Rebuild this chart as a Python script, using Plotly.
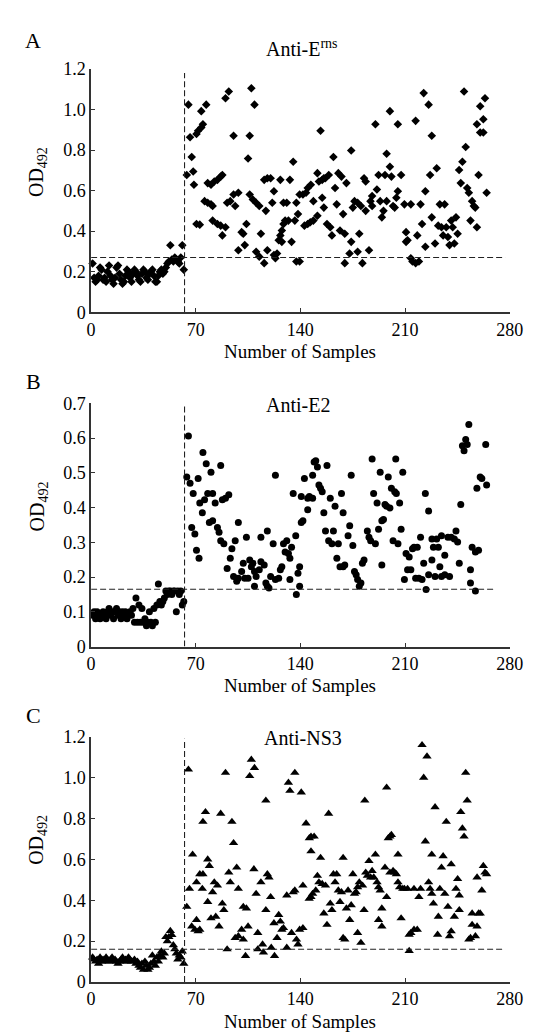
import plotly.graph_objects as go

# ---------------- data ----------------
x_ticks = [0, 70, 140, 210, 280]
x_tick_text = ["0", "70", "140", "210", "280"]
y_ticks_a = [0, 0.2, 0.4, 0.6, 0.8, 1.0, 1.2]
y_tick_text_a = ["0", "0.2", "0.4", "0.6", "0.8", "1.0", "1.2"]
y_ticks_b = [0, 0.1, 0.2, 0.3, 0.4, 0.5, 0.6, 0.7]
y_tick_text_b = ["0", "0.1", "0.2", "0.3", "0.4", "0.5", "0.6", "0.7"]
y_ticks_c = [0, 0.2, 0.4, 0.6, 0.8, 1.0, 1.2]
y_tick_text_c = ["0", "0.2", "0.4", "0.6", "0.8", "1.0", "1.2"]

titles = ["Anti-E<sup>rns</sup>", "Anti-E2", "Anti-NS3"]
letters = ["A", "B", "C"]

neg_count = 62
cut_sample = 62.5                # vertical dashed line
cutoff_a, cutoff_b, cutoff_c = 0.27, 0.165, 0.16
vline_top = [1.18, 0.695, 1.19]
hline_end = [277, 270, 276]

a_neg = [0.24, 0.17, 0.15, 0.16, 0.18, 0.22, 0.21, 0.16, 0.17, 0.15,
         0.20, 0.23, 0.18, 0.16, 0.14, 0.17, 0.22, 0.23, 0.19, 0.16,
         0.14, 0.15, 0.18, 0.21, 0.20, 0.17, 0.15, 0.19, 0.21, 0.20,
         0.18, 0.16, 0.15, 0.19, 0.21, 0.20, 0.17, 0.16, 0.19, 0.20,
         0.21, 0.18, 0.15, 0.15, 0.18, 0.20, 0.21, 0.19, 0.20, 0.22,
         0.24, 0.25, 0.33, 0.26, 0.25, 0.27, 0.26, 0.25, 0.24, 0.27,
         0.33, 0.21]

a_pos = [(65.1, 1.024), (66.2, 0.863), (67.3, 0.766), (64.0, 0.677), (68.3, 0.694),
         (68.8, 0.629), (70.5, 0.879), (71.6, 0.895), (73.7, 0.911), (74.8, 0.927),
         (73.7, 0.992), (77.0, 1.024), (70.5, 0.435), (72.7, 0.432), (75.9, 0.548),
         (78.0, 0.540), (80.2, 0.532), (81.3, 0.524), (78.0, 0.637), (80.2, 0.629),
         (82.4, 0.645), (84.5, 0.653), (86.7, 0.669), (87.8, 0.677), (81.3, 0.452),
         (84.5, 0.435), (86.7, 0.427), (87.8, 0.379), (89.9, 0.419), (89.9, 1.056),
         (92.1, 1.089), (95.3, 0.871), (91.0, 0.540), (93.1, 0.548), (95.3, 0.581),
         (98.5, 0.589), (96.4, 0.524), (98.5, 0.306), (100.7, 0.395), (101.8, 0.387),
         (102.8, 0.331), (103.9, 0.435), (105.0, 0.758), (106.1, 0.871), (107.2, 1.105),
         (109.3, 1.024), (106.1, 0.581), (108.2, 0.556), (110.4, 0.540), (112.5, 0.524),
         (113.6, 0.387), (110.4, 0.298), (112.5, 0.274), (115.8, 0.242), (117.9, 0.306),
         (116.9, 0.500), (115.8, 0.653), (117.9, 0.661), (120.1, 0.661), (122.3, 0.597),
         (121.2, 0.540), (122.3, 0.282), (123.3, 0.266), (124.4, 0.290), (125.5, 0.355),
         (126.6, 0.379), (127.6, 0.403), (128.7, 0.435), (129.8, 0.452), (127.6, 0.347),
         (126.6, 0.653), (128.7, 0.540), (130.9, 0.540), (132.0, 0.452), (134.1, 0.347),
         (135.2, 0.742), (133.0, 0.653), (137.3, 0.540), (138.4, 0.484), (139.5, 0.581),
         (139.5, 0.250), (137.3, 0.250), (136.3, 0.452), (141.7, 0.581), (143.8, 0.589),
         (144.9, 0.613), (147.0, 0.629), (148.7, 0.548), (151.4, 0.686), (152.4, 0.645),
         (153.5, 0.895), (154.6, 0.653), (155.7, 0.661), (156.7, 0.661), (159.0, 0.677),
         (154.6, 0.565), (155.7, 0.516), (151.4, 0.476), (148.7, 0.452), (146.6, 0.444),
         (144.9, 0.435), (142.7, 0.427), (157.8, 0.435), (160.0, 0.419), (161.1, 0.379),
         (162.1, 0.766), (163.2, 0.613), (165.4, 0.686), (167.5, 0.669), (164.3, 0.532),
         (166.5, 0.403), (168.6, 0.484), (169.7, 0.387), (170.8, 0.637), (174.0, 0.798),
         (174.0, 0.347), (172.9, 0.290), (169.7, 0.242), (175.1, 0.516), (176.2, 0.548),
         (178.3, 0.540), (179.4, 0.387), (178.3, 0.298), (180.5, 0.524), (181.5, 0.242),
         (182.6, 0.661), (183.7, 0.645), (183.7, 0.500), (185.9, 0.306), (186.9, 0.548),
         (188.0, 0.573), (188.0, 0.524), (190.2, 0.927), (191.2, 0.605), (192.3, 0.677),
         (193.4, 0.548), (194.5, 0.468), (195.6, 0.500), (196.6, 0.677), (197.7, 0.548),
         (197.7, 0.782), (199.9, 0.992), (199.9, 0.718), (200.9, 0.669), (202.0, 0.524),
         (203.1, 0.516), (204.2, 0.565), (205.2, 0.927), (205.2, 0.597), (207.4, 0.677),
         (209.6, 0.532), (210.7, 0.395), (210.7, 0.347), (211.7, 0.355), (213.9, 0.532),
         (213.9, 0.266), (215.0, 0.250), (217.1, 0.242), (219.3, 0.250), (217.1, 0.944),
         (218.2, 0.379), (220.4, 0.532), (221.4, 0.435), (222.5, 1.081), (223.6, 0.597),
         (223.6, 0.323), (225.8, 1.024), (226.8, 0.677), (227.9, 0.468), (227.9, 0.871),
         (230.1, 0.339), (231.2, 0.710), (232.2, 0.427), (233.3, 0.532), (234.4, 0.419),
         (235.5, 0.379), (236.5, 0.532), (237.6, 0.419), (238.7, 0.371), (239.8, 0.331),
         (240.9, 0.452), (241.9, 0.419), (243.0, 0.339), (244.1, 0.468), (245.2, 0.387),
         (246.2, 0.702), (247.3, 0.637), (248.4, 0.742), (249.5, 1.089), (250.6, 0.815),
         (251.6, 0.613), (252.7, 0.589), (253.8, 0.452), (254.9, 0.548), (256.0, 0.524),
         (257.0, 0.516), (258.1, 0.419), (258.1, 0.927), (259.2, 0.677), (260.3, 0.887),
         (260.3, 1.016), (262.4, 0.952), (263.5, 1.056), (262.4, 0.887), (264.6, 0.589)]

b_neg = [0.09, 0.10, 0.08, 0.10, 0.09, 0.08, 0.09, 0.10, 0.09, 0.08,
         0.10, 0.11, 0.09, 0.10, 0.08, 0.10, 0.11, 0.09, 0.10, 0.08,
         0.10, 0.09, 0.10, 0.08, 0.09, 0.10, 0.09, 0.11, 0.07, 0.14,
         0.07, 0.12, 0.07, 0.11, 0.07, 0.08, 0.06, 0.07, 0.10, 0.07,
         0.06, 0.11, 0.07, 0.12, 0.18, 0.13, 0.12, 0.13, 0.14, 0.16,
         0.15, 0.16, 0.16, 0.15, 0.16, 0.16, 0.10, 0.16, 0.15, 0.16,
         0.12, 0.13]

b_pos = [(65.1, 0.606), (64.0, 0.488), (66.2, 0.470), (68.3, 0.441), (67.3, 0.343),
         (69.4, 0.324), (70.5, 0.277), (72.2, 0.254), (71.6, 0.484), (72.7, 0.413),
         (74.4, 0.385), (74.8, 0.559), (77.0, 0.526), (75.9, 0.423), (78.0, 0.441),
         (80.2, 0.502), (81.3, 0.441), (79.1, 0.357), (81.3, 0.362), (83.0, 0.413),
         (84.5, 0.343), (85.6, 0.329), (86.7, 0.521), (87.8, 0.423), (89.9, 0.427),
         (92.1, 0.437), (86.7, 0.305), (88.8, 0.296), (91.0, 0.225), (93.1, 0.254),
         (94.2, 0.282), (96.4, 0.305), (98.5, 0.357), (95.3, 0.202), (97.4, 0.188),
         (98.5, 0.197), (100.7, 0.216), (101.8, 0.240), (102.8, 0.197), (103.9, 0.315),
         (105.0, 0.197), (106.1, 0.249), (107.2, 0.230), (108.2, 0.240), (109.3, 0.216),
         (110.4, 0.202), (109.3, 0.174), (112.5, 0.221), (113.6, 0.244), (115.8, 0.235),
         (116.9, 0.183), (117.9, 0.174), (119.0, 0.169), (117.9, 0.333), (113.6, 0.315),
         (120.1, 0.202), (121.8, 0.296), (123.3, 0.493), (123.3, 0.193), (125.5, 0.197),
         (126.6, 0.221), (127.6, 0.230), (128.7, 0.296), (129.8, 0.272), (130.9, 0.305),
         (132.0, 0.268), (133.0, 0.254), (133.0, 0.193), (134.1, 0.286), (135.2, 0.441),
         (136.9, 0.319), (137.3, 0.150), (138.4, 0.211), (139.5, 0.230), (140.6, 0.432),
         (140.6, 0.357), (139.5, 0.174), (141.7, 0.362), (142.7, 0.484), (144.9, 0.394),
         (144.9, 0.427), (146.0, 0.432), (148.2, 0.427), (148.2, 0.493), (149.2, 0.531),
         (150.3, 0.535), (151.4, 0.517), (152.4, 0.465), (153.5, 0.456), (154.6, 0.446),
         (155.7, 0.385), (156.8, 0.333), (157.8, 0.521), (158.9, 0.305), (160.0, 0.427),
         (161.1, 0.296), (162.1, 0.333), (163.2, 0.404), (164.4, 0.254), (165.4, 0.296),
         (166.5, 0.230), (167.5, 0.441), (168.6, 0.385), (168.6, 0.230), (169.7, 0.235),
         (171.9, 0.319), (173.0, 0.348), (174.0, 0.493), (175.1, 0.291), (176.2, 0.216),
         (177.3, 0.207), (178.3, 0.193), (179.4, 0.174), (180.5, 0.183), (181.5, 0.240),
         (182.6, 0.249), (184.8, 0.333), (185.9, 0.315), (187.0, 0.305), (189.0, 0.441),
         (188.0, 0.540), (190.2, 0.296), (191.3, 0.413), (192.3, 0.338), (193.4, 0.502),
         (194.5, 0.362), (194.5, 0.235), (195.6, 0.366), (196.6, 0.409), (197.7, 0.404),
         (198.8, 0.488), (199.9, 0.399), (200.9, 0.456), (203.1, 0.446), (202.0, 0.305),
         (204.2, 0.441), (203.8, 0.540), (205.3, 0.296), (206.4, 0.413), (207.4, 0.338),
         (208.5, 0.502), (209.6, 0.193), (210.7, 0.268), (211.7, 0.221), (212.8, 0.258),
         (213.9, 0.221), (215.0, 0.282), (216.0, 0.286), (217.1, 0.197), (218.2, 0.286),
         (219.3, 0.197), (220.4, 0.315), (221.4, 0.193), (222.5, 0.240), (223.6, 0.441),
         (224.1, 0.164), (225.8, 0.390), (225.8, 0.207), (228.0, 0.249), (228.0, 0.310),
         (229.0, 0.286), (230.1, 0.202), (231.2, 0.310), (232.3, 0.286), (233.3, 0.230),
         (234.4, 0.319), (234.4, 0.202), (236.6, 0.263), (236.6, 0.207), (238.7, 0.315),
         (239.8, 0.202), (240.9, 0.315), (243.0, 0.310), (244.1, 0.333), (245.2, 0.301),
         (246.3, 0.240), (247.3, 0.409), (248.4, 0.578), (249.5, 0.564), (250.6, 0.596),
         (251.6, 0.582), (252.7, 0.639), (253.8, 0.221), (253.8, 0.183), (254.9, 0.286),
         (257.1, 0.272), (257.1, 0.160), (259.2, 0.277), (258.1, 0.456), (260.3, 0.488),
         (261.4, 0.484), (264.0, 0.582), (264.6, 0.465)]

c_neg = [0.12, 0.11, 0.10, 0.11, 0.09, 0.12, 0.10, 0.11, 0.10, 0.12,
         0.11, 0.10, 0.11, 0.12, 0.10, 0.11, 0.10, 0.09, 0.10, 0.11,
         0.12, 0.10, 0.11, 0.10, 0.12, 0.11, 0.10, 0.10, 0.11, 0.09,
         0.10, 0.08, 0.07, 0.09, 0.06, 0.10, 0.08, 0.06, 0.07, 0.09,
         0.13, 0.10, 0.08, 0.12, 0.10, 0.13, 0.15, 0.12, 0.14, 0.22,
         0.20, 0.22, 0.25, 0.23, 0.18, 0.16, 0.14, 0.11, 0.13, 0.12,
         0.15, 0.09]

c_pos = [(65.1, 1.040), (64.0, 0.368), (65.8, 0.456), (67.9, 0.624), (67.3, 0.272),
         (69.4, 0.256), (70.5, 0.304), (71.6, 0.248), (72.7, 0.256), (70.5, 0.488),
         (72.7, 0.528), (74.8, 0.528), (74.4, 0.456), (74.8, 0.784), (76.5, 0.832),
         (78.0, 0.600), (79.1, 0.568), (78.0, 0.392), (80.2, 0.312), (81.3, 0.440),
         (82.4, 0.488), (83.4, 0.320), (84.5, 0.472), (85.6, 0.272), (86.7, 0.824),
         (87.8, 0.384), (88.8, 0.352), (89.9, 1.024), (91.0, 0.160), (92.1, 0.536),
         (93.1, 0.488), (94.2, 0.784), (95.3, 0.680), (96.4, 0.216), (97.4, 0.560),
         (98.5, 0.456), (98.5, 0.224), (100.7, 0.256), (101.8, 0.208), (101.8, 0.368),
         (103.3, 0.128), (103.9, 0.360), (105.0, 0.272), (106.1, 1.008), (107.2, 1.088),
         (109.3, 1.048), (108.9, 0.552), (110.4, 0.432), (111.5, 0.240), (111.5, 0.160),
         (113.6, 0.488), (114.7, 0.184), (115.3, 0.144), (116.9, 0.888), (116.9, 0.352),
         (117.9, 0.528), (119.0, 0.512), (120.1, 0.416), (120.5, 0.168), (122.3, 0.288),
         (122.7, 0.128), (124.4, 0.216), (125.5, 0.328), (126.6, 0.296), (127.6, 0.256),
         (128.7, 0.264), (130.9, 0.424), (130.9, 0.168), (132.0, 0.976), (133.0, 0.936),
         (134.1, 0.240), (135.2, 0.440), (136.3, 1.024), (139.5, 0.256), (138.4, 0.184),
         (140.6, 0.928), (141.7, 0.472), (136.3, 0.448), (141.7, 0.264), (137.4, 0.208),
         (143.8, 0.776), (146.0, 0.704), (147.1, 0.712), (149.2, 0.712), (147.1, 0.640),
         (145.9, 0.408), (147.1, 0.416), (148.2, 0.432), (150.3, 0.448), (151.4, 0.520),
         (152.4, 0.488), (153.5, 0.608), (154.6, 0.480), (156.8, 0.472), (155.7, 0.336),
         (157.8, 0.280), (158.9, 0.824), (160.0, 0.384), (161.1, 0.352), (162.1, 0.528),
         (163.2, 0.488), (164.3, 0.528), (165.4, 0.448), (166.5, 0.392), (167.5, 0.440),
         (168.6, 0.608), (168.6, 0.216), (169.7, 0.208), (170.8, 0.360), (171.9, 0.448),
         (173.0, 0.304), (174.0, 0.376), (175.1, 0.528), (176.2, 0.432), (177.3, 0.440),
         (178.3, 0.464), (179.4, 0.488), (178.3, 0.240), (180.5, 0.192), (181.6, 0.472),
         (182.6, 0.352), (183.1, 0.888), (183.7, 0.536), (184.8, 0.520), (185.9, 0.592),
         (187.0, 0.512), (188.0, 0.544), (189.1, 0.512), (190.2, 0.624), (191.3, 0.488),
         (192.3, 0.464), (193.4, 0.448), (192.3, 0.304), (194.5, 0.360), (194.5, 0.272),
         (196.6, 0.560), (197.7, 0.416), (197.7, 0.952), (198.8, 0.704), (199.9, 0.712),
         (200.9, 0.720), (199.9, 0.536), (202.0, 0.544), (203.1, 0.536), (204.2, 0.528),
         (205.3, 0.624), (205.3, 0.488), (206.4, 0.464), (207.4, 0.312), (208.5, 0.456),
         (209.6, 0.456), (211.7, 0.456), (212.8, 0.152), (212.8, 0.232), (213.9, 0.240),
         (216.0, 0.456), (216.0, 0.256), (218.2, 0.256), (219.3, 0.416), (220.4, 0.456),
         (221.4, 1.160), (222.5, 1.000), (223.6, 0.688), (224.7, 1.104), (225.8, 0.488),
         (226.8, 0.456), (227.9, 0.624), (227.9, 0.432), (229.0, 0.384), (230.1, 0.856),
         (231.8, 0.232), (232.3, 0.320), (233.3, 0.456), (234.4, 0.560), (235.5, 0.616),
         (236.6, 0.432), (237.6, 0.784), (238.7, 0.368), (239.8, 0.224), (240.9, 0.248),
         (240.9, 0.576), (243.0, 0.320), (244.1, 0.456), (245.2, 0.504), (246.3, 0.352),
         (246.3, 0.424), (247.3, 0.832), (248.4, 0.752), (249.5, 0.712), (250.6, 1.024),
         (251.6, 0.888), (252.7, 0.208), (253.8, 0.216), (254.9, 0.336), (254.9, 0.280),
         (257.1, 0.224), (258.2, 0.272), (258.2, 0.512), (259.2, 0.336), (260.3, 0.336),
         (261.4, 0.448), (262.4, 0.568), (263.5, 0.536), (264.6, 0.528)]

# ---------------- layout geometry (pixels) ----------------
W, H = 533, 1034
X0, X1 = 81, 515
panels = [
    dict(top=52, bot=300, neg=a_neg, pos=a_pos, sym="diamond", size=6.6,
         ymax=1.2, ticks=y_ticks_a, ttext=y_tick_text_a, cutoff=cutoff_a,
         letter_y=23, title_y=31, title_x=300),
    dict(top=393, bot=641, neg=b_neg, pos=b_pos, sym="circle", size=7,
         ymax=0.7, ticks=y_ticks_b, ttext=y_tick_text_b, cutoff=cutoff_b,
         letter_y=371, title_y=395, title_x=296),
    dict(top=733, bot=983, neg=c_neg, pos=c_pos, sym="triangle-up", size=8.2,
         ymax=1.2, ticks=y_ticks_c, ttext=y_tick_text_c, cutoff=cutoff_c,
         letter_y=711, title_y=734, title_x=301),
]

FONT = "Liberation Serif, Times New Roman, serif"


def px(xp):
    return xp / W


def py(yp):
    return 1 - yp / H


fig = go.Figure()
layout = dict(width=W, height=H, margin=dict(l=0, r=0, t=0, b=0),
              paper_bgcolor="white", plot_bgcolor="white", showlegend=False,
              font=dict(family=FONT, size=18, color="black"))
annotations = []
shapes = []

for i, p in enumerate(panels):
    n = "" if i == 0 else str(i + 1)
    xa, ya = "x" + n, "y" + n
    xs = list(range(1, neg_count + 1)) + [q[0] for q in p["pos"]]
    ys = p["neg"] + [q[1] for q in p["pos"]]
    fig.add_trace(go.Scatter(
        x=xs, y=ys, mode="markers", xaxis=xa, yaxis=ya, cliponaxis=False,
        marker=dict(symbol=p["sym"], size=p["size"], color="black",
                    line=dict(width=0))))

    axis_common = dict(showline=True, linecolor="#333", linewidth=1.5,
                       ticks="inside", ticklen=4, tickwidth=1.2, tickcolor="#333",
                       showgrid=False, zeroline=False,
                       tickfont=dict(family=FONT, size=18, color="black"))
    layout["xaxis" + n] = dict(domain=[px(X0), px(X1)], range=[0, 280],
                               anchor=ya, tickmode="array", tickvals=x_ticks,
                               ticktext=x_tick_text, **axis_common)
    layout["yaxis" + n] = dict(domain=[py(p["bot"]), py(p["top"])],
                               range=[0, p["ymax"]], anchor=xa, tickmode="array",
                               tickvals=p["ticks"], ticktext=p["ttext"], **axis_common)

    dash = dict(color="#222", width=1.1, dash="6px,3px")
    shapes.append(dict(type="line", xref=xa, yref=ya, x0=cut_sample, x1=cut_sample,
                       y0=0, y1=vline_top[i], line=dash))
    shapes.append(dict(type="line", xref=xa, yref=ya, x0=0, x1=hline_end[i],
                       y0=p["cutoff"], y1=p["cutoff"], line=dash))

    annotations.append(dict(text=letters[i], x=px(21), y=py(p["letter_y"]),
                            xref="paper", yref="paper", showarrow=False,
                            xanchor="center", yanchor="middle",
                            font=dict(family=FONT, size=22, color="black")))
    annotations.append(dict(text=titles[i], x=px(p["title_x"]), y=py(p["title_y"]),
                            xref="paper", yref="paper", showarrow=False,
                            xanchor="center", yanchor="middle",
                            font=dict(family=FONT, size=20, color="black")))
    annotations.append(dict(text="Number of Samples", x=px((X0 + X1) / 2),
                            y=py(p["bot"] + 40), xref="paper", yref="paper",
                            showarrow=False, xanchor="center", yanchor="middle",
                            font=dict(family=FONT, size=19, color="black")))
    annotations.append(dict(text="OD<sub>492</sub>", x=px(26), y=py(p["top"] + 105),
                            xref="paper", yref="paper", showarrow=False,
                            textangle=-90, xanchor="center", yanchor="middle",
                            font=dict(family=FONT, size=20, color="black")))

layout["annotations"] = annotations
layout["shapes"] = shapes
fig.update_layout(**layout)
fig.write_html("out.html")
